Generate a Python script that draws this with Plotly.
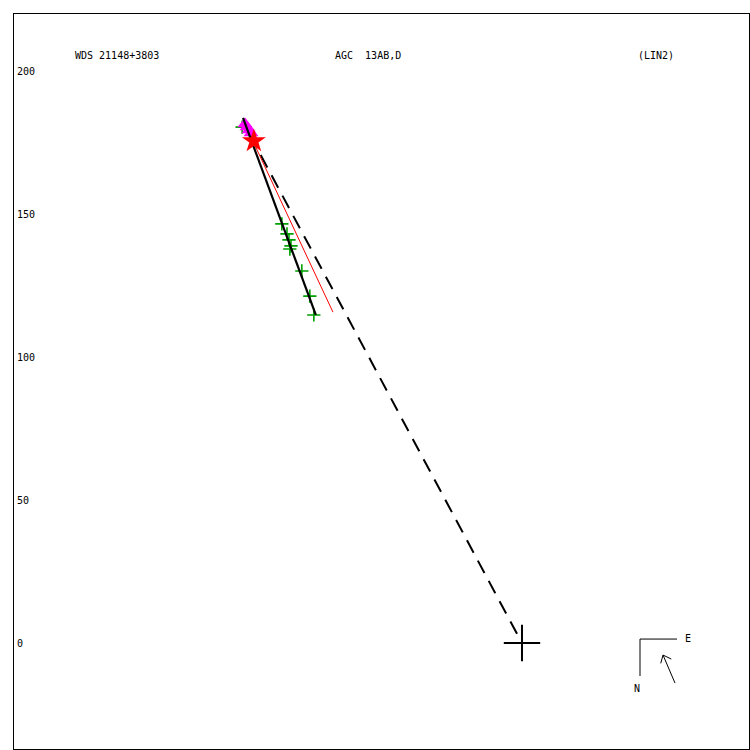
import plotly.graph_objects as go

# ---- data (arcsec-like units, origin = primary) ----
green_x = [-98.0, -84.1, -82.3, -81.6, -80.9, -81.3, -77.1, -74.3, -72.9]
green_y = [180.7, 146.8, 143.3, 141.2, 139.1, 138.0, 130.3, 121.5, 114.9]

mag_x = [-97.0, -96.3, -95.6, -94.9]
mag_y = [181.8, 180.7, 179.7, 178.6]

star_x = [-93.9]
star_y = [175.8]

fit_x = [-97.7, -72.2]          # black solid orbit/fit line
fit_y = [183.9, 114.9]

red_x = [-97.7, -66.2]          # red line
red_y = [183.2, 115.9]

dash_x = [-95.3, 0.0]           # dashed line to primary
dash_y = [178.0, 0.0]

origin_x = [0.0]
origin_y = [0.0]

ytick_vals = [200, 150, 100, 50, 0]
ytick_text = ["200", "150", "100", "50", "0"]

titles = ["WDS 21148+3803", "AGC  13AB,D", "(LIN2)"]
title_pos = [0.0803, 0.4340, 0.8463]

# compass (decorative, data coords)
comp_corner = (41.33, 1.40)
comp_e_end = 54.29
comp_n_end = -11.56
arrow_tail = (53.59, -14.01)
arrow_head = (49.39, -4.20)

XR = [-177.9, 79.5]
YR = [-37.1, 220.3]

fig = go.Figure()

fig.add_trace(go.Scatter(x=dash_x, y=dash_y, mode="lines",
                         line=dict(color="black", width=2, dash="14px,9px"),
                         hoverinfo="skip"))
fig.add_trace(go.Scatter(x=red_x, y=red_y, mode="lines",
                         line=dict(color="red", width=1), hoverinfo="skip"))
fig.add_trace(go.Scatter(x=green_x, y=green_y, mode="markers",
                         marker=dict(symbol="cross-thin", size=9.5,
                                     line=dict(color="#00a000", width=1.6))))
fig.add_trace(go.Scatter(x=mag_x, y=mag_y, mode="markers",
                         marker=dict(symbol="triangle-up", size=13, color="#ff00ff",
                                     line=dict(width=0))))
fig.add_trace(go.Scatter(x=fit_x, y=fit_y, mode="lines",
                         line=dict(color="black", width=2.2), hoverinfo="skip"))
fig.add_trace(go.Scatter(x=star_x, y=star_y, mode="markers",
                         marker=dict(symbol="star", size=18, color="red",
                                     line=dict(width=0))))
fig.add_trace(go.Scatter(x=origin_x, y=origin_y, mode="markers",
                         marker=dict(symbol="cross-thin", size=26,
                                     line=dict(color="black", width=2))))

shapes = []
cx, cy = comp_corner
shapes.append(dict(type="line", xref="x", yref="y", x0=cx, y0=cy, x1=comp_e_end, y1=cy,
                   line=dict(color="black", width=1)))
shapes.append(dict(type="line", xref="x", yref="y", x0=cx, y0=cy, x1=cx, y1=comp_n_end,
                   line=dict(color="black", width=1)))
shapes.append(dict(type="line", xref="x", yref="y", x0=arrow_tail[0], y0=arrow_tail[1],
                   x1=arrow_head[0], y1=arrow_head[1], line=dict(color="black", width=1)))
# arrow barbs
hx, hy = arrow_head
shapes.append(dict(type="line", xref="x", yref="y", x0=hx, y0=hy, x1=hx - 0.8, y1=hy - 2.9,
                   line=dict(color="black", width=1)))
shapes.append(dict(type="line", xref="x", yref="y", x0=hx, y0=hy, x1=hx + 2.9, y1=hy - 1.4,
                   line=dict(color="black", width=1)))

font = dict(family="DejaVu Sans Mono", size=10, color="black")
annotations = []
for t, px in zip(titles, title_pos):
    annotations.append(dict(text=t, x=px, y=0.944, xref="paper", yref="paper",
                            xanchor="left", yanchor="middle", showarrow=False, font=font))
for v, t in zip(ytick_vals, ytick_text):
    annotations.append(dict(text=t, x=0, y=v, xref="paper", yref="y",
                            xanchor="left", yanchor="middle", xshift=1,
                            showarrow=False, font=font))
annotations.append(dict(text="E", x=comp_e_end + 3.9, y=cy + 0.35, xref="x", yref="y",
                        xanchor="center", yanchor="middle", showarrow=False, font=font))
annotations.append(dict(text="N", x=cx - 1.05, y=comp_n_end - 4.5, xref="x", yref="y",
                        xanchor="center", yanchor="middle", showarrow=False, font=font))

fig.update_layout(
    width=750, height=750,
    margin=dict(l=14, r=1, t=14, b=1),
    paper_bgcolor="white", plot_bgcolor="white",
    showlegend=False,
    shapes=shapes, annotations=annotations,
)
fig.update_xaxes(range=XR, showgrid=False, zeroline=False, showticklabels=False,
                 ticks="", showline=True, mirror=True, linecolor="black", linewidth=1)
fig.update_yaxes(range=YR, showgrid=False, zeroline=False, showticklabels=False,
                 ticks="", showline=True, mirror=True, linecolor="black", linewidth=1)

fig.write_html("out.html", config={"displayModeBar": False},
               post_script="document.body.style.margin='0';document.body.style.overflow='hidden';")
